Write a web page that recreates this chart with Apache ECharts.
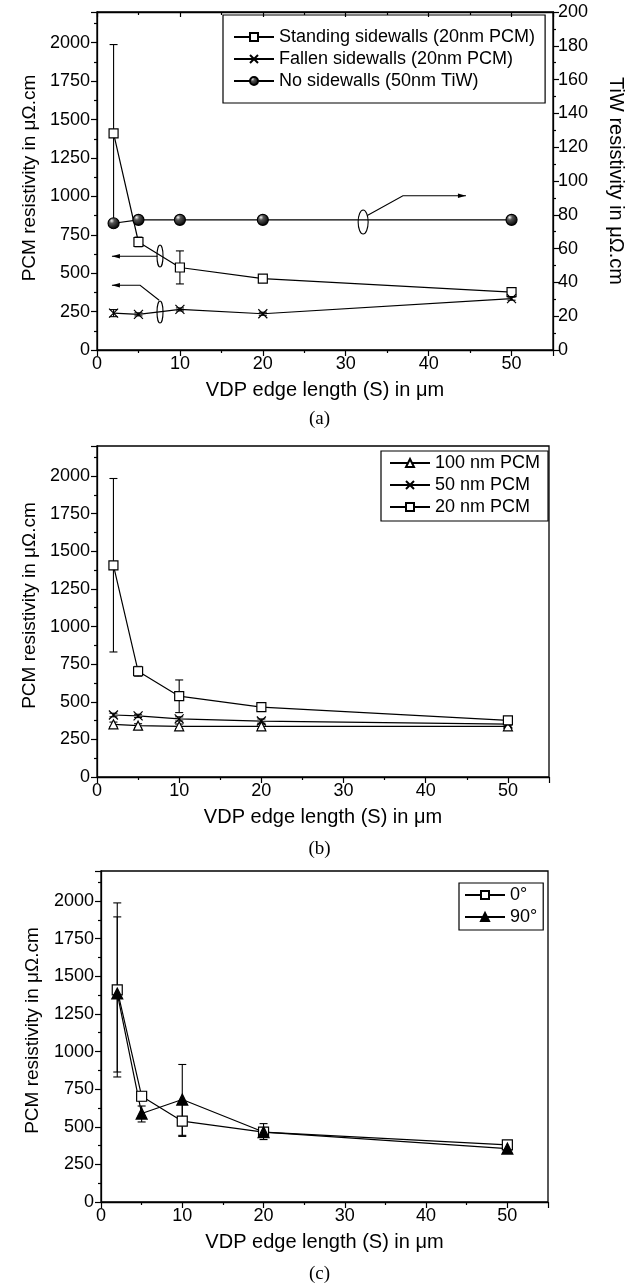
<!DOCTYPE html>
<html>
<head>
<meta charset="utf-8">
<script src="https://cdn.jsdelivr.net/npm/echarts@6/dist/echarts.min.js"></script>
<style>
html, body { margin: 0; padding: 0; background: #fff; }
#chart { width: 639px; height: 1283px; }
</style>
</head>
<body>
<div id="chart"></div>
<script>
// VDP edge length (x) shared by every panel
const S = [2, 5, 10, 20, 50];

// panel (a)
const standing = [1410, 703, 537, 465, 377];
const standingLo = [830, 672, 430, 452, 362];
const standingHi = [1988, 735, 645, 478, 392];
const fallen = [240, 232, 264, 236, 334];
const fallenLo = [217, 222, 254, 226, 324];
const fallenHi = [263, 242, 274, 246, 344];
const tiw = [75, 77, 77, 77, 77];

// panel (b)
const pcm100 = [350, 341, 337, 337, 337];
const pcm100Lo = [335, 328, 322, 322, 325];
const pcm100Hi = [365, 354, 352, 352, 349];
const pcm50 = [412, 406, 386, 372, 352];
const pcm50Lo = [400, 395, 372, 358, 340];
const pcm50Hi = [424, 417, 400, 386, 364];
const pcm20 = [1407, 703, 537, 465, 377];
const pcm20Lo = [831, 670, 428, 452, 362];
const pcm20Hi = [1984, 735, 645, 478, 392];

// panel (c)
const deg0 = [1410, 703, 537, 465, 380];
const deg0Lo = [831, 673, 443, 440, 365];
const deg0Hi = [1988, 733, 648, 490, 395];
const deg90 = [1386, 588, 681, 465, 355];
const deg90Lo = [864, 532, 436, 415, 340];
const deg90Hi = [1895, 638, 914, 521, 370];

// annotation anchors in panel (a), data coords (x, PCM axis)
const ellipseAt = [[32.1, 833], [7.6, 612], [7.6, 247]];
const arrowPaths = [
    [[32.6, 876], [36.9, 1004], [44.5, 1004]],
    [[7.3, 610], [1.8, 610]],
    [[7.5, 324], [5.2, 421], [1.8, 421]]
];

const FONT = '"Liberation Sans", Arial, sans-serif';
const BLACK = '#000';

const chart = echarts.init(document.getElementById('chart'));

function pairs(vals) {
    return S.map((x, i) => [x, vals[i]]);
}
function errData(lo, hi) {
    return S.map((x, i) => [x, lo[i], hi[i]]);
}
// plain numbers, no thousands separator
function plain(v) {
    return String(v);
}

function xAxisFor(grid) {
    return {
        type: 'value', gridIndex: grid, min: 0, max: 55, interval: 10,
        axisLine: { onZero: false, lineStyle: { color: BLACK, width: 1.3 } },
        axisTick: { length: 6, lineStyle: { color: BLACK, width: 1.2 } },
        minorTick: { show: true, splitNumber: 2, length: 3, lineStyle: { color: BLACK, width: 1.2 } },
        axisLabel: { color: BLACK, fontSize: 18, margin: 5, fontFamily: FONT, showMaxLabel: false, formatter: plain },
        splitLine: { show: false },
        name: 'VDP edge length (S) in μm', nameLocation: 'middle', nameGap: 30,
        nameTextStyle: { color: BLACK, fontSize: 20, fontFamily: FONT }
    };
}
function yAxisFor(grid, gap, shift) {
    return {
        type: 'value', gridIndex: grid, min: 0, max: 2200, interval: 250,
        axisLine: { onZero: false, lineStyle: { color: BLACK, width: 1.3 } },
        axisTick: { length: 6, lineStyle: { color: BLACK, width: 1.2 } },
        minorTick: { show: true, splitNumber: 2, length: 3, lineStyle: { color: BLACK, width: 1.2 } },
        axisLabel: { color: BLACK, fontSize: 18, margin: 7, fontFamily: FONT, showMaxLabel: false, formatter: plain },
        splitLine: { show: false },
        name: 'PCM resistivity in μΩ.cm', nameLocation: 'middle', nameGap: gap,
        nameTextStyle: { color: BLACK, fontSize: 19, fontFamily: FONT, padding: [0, 0, 0, shift] }
    };
}

function lineSeries(name, xi, yi, vals, symbol, size, fill) {
    return {
        type: 'line', name: name, xAxisIndex: xi, yAxisIndex: yi,
        data: pairs(vals), symbol: symbol, symbolSize: size, z: 3,
        lineStyle: { color: BLACK, width: 1.2 },
        itemStyle: { color: fill, borderColor: BLACK, borderWidth: 1.2 },
        emphasis: { disabled: true }
    };
}

function errRender(params, api) {
    const x = api.value(0);
    const p1 = api.coord([x, api.value(1)]);
    const p2 = api.coord([x, api.value(2)]);
    const w = 4;
    const st = { stroke: BLACK, lineWidth: 1.1 };
    return {
        type: 'group',
        children: [
            { type: 'line', shape: { x1: p1[0], y1: p1[1], x2: p2[0], y2: p2[1] }, style: st },
            { type: 'line', shape: { x1: p1[0] - w, y1: p1[1], x2: p1[0] + w, y2: p1[1] }, style: st },
            { type: 'line', shape: { x1: p2[0] - w, y1: p2[1], x2: p2[0] + w, y2: p2[1] }, style: st }
        ]
    };
}
function errSeries(xi, yi, lo, hi) {
    return {
        type: 'custom', xAxisIndex: xi, yAxisIndex: yi, z: 2,
        renderItem: errRender, data: errData(lo, hi),
        encode: { x: 0, y: [1, 2] }, silent: true
    };
}

// ellipses + arrows of panel (a)
function noteRender(params, api) {
    const kids = [];
    const st = { stroke: BLACK, lineWidth: 1.1, fill: null };
    const sizes = [[5, 12], [3, 11], [3, 11]];
    ellipseAt.forEach((c, i) => {
        const p = api.coord(c);
        kids.push({ type: 'ellipse', shape: { cx: p[0], cy: p[1], rx: sizes[i][0], ry: sizes[i][1] }, style: st });
    });
    arrowPaths.forEach(path => {
        const pts = path.map(v => api.coord(v));
        kids.push({ type: 'polyline', shape: { points: pts }, style: st });
        const a = pts[pts.length - 2], b = pts[pts.length - 1];
        const dx = b[0] - a[0], dy = b[1] - a[1];
        const len = Math.sqrt(dx * dx + dy * dy);
        const ux = dx / len, uy = dy / len;
        const hl = 8, hw = 2.2;
        kids.push({
            type: 'polygon',
            shape: { points: [b, [b[0] - ux * hl - uy * hw, b[1] - uy * hl + ux * hw], [b[0] - ux * hl + uy * hw, b[1] - uy * hl - ux * hw]] },
            style: { fill: BLACK }
        });
    });
    return { type: 'group', children: kids };
}

const sphere = new echarts.graphic.RadialGradient(0.35, 0.3, 0.7, [
    { offset: 0, color: '#f4f4f4' },
    { offset: 0.3, color: '#555' },
    { offset: 1, color: '#000' }
]);
const xMark = 'path://M0,0L10,10M10,0L0,10';

const legendBase = {
    orient: 'vertical', itemWidth: 40, itemHeight: 10, itemGap: 4,
    borderColor: BLACK, borderWidth: 1.2, selectedMode: false,
    textStyle: { color: BLACK, fontSize: 18, fontFamily: FONT }
};

const option = {
    animation: false,
    backgroundColor: '#fff',
    title: [
        { text: '(a)', left: 'center', top: 410, padding: 0, textStyle: { fontFamily: '"Liberation Serif", serif', fontSize: 19, fontWeight: 'normal', color: BLACK } },
        { text: '(b)', left: 'center', top: 840, padding: 0, textStyle: { fontFamily: '"Liberation Serif", serif', fontSize: 19, fontWeight: 'normal', color: BLACK } },
        { text: '(c)', left: 'center', top: 1265, padding: 0, textStyle: { fontFamily: '"Liberation Serif", serif', fontSize: 19, fontWeight: 'normal', color: BLACK } }
    ],
    legend: [
        Object.assign({}, legendBase, {
            data: ['Standing sidewalls (20nm PCM)', 'Fallen sidewalls (20nm PCM)', 'No sidewalls (50nm TiW)'],
            left: 223, top: 15, padding: [13, 10, 13, 10]
        }),
        Object.assign({}, legendBase, {
            data: ['100 nm PCM', '50 nm PCM', '20 nm PCM'],
            left: 381, top: 451, padding: [3, 8, 5, 8]
        }),
        Object.assign({}, legendBase, {
            data: ['0°', '90°'],
            left: 459, top: 883, padding: [3, 6, 4, 5]
        })
    ],
    grid: [
        { left: 97, top: 12, width: 456, height: 338, show: true, borderColor: BLACK, borderWidth: 1.3 },
        { left: 97, top: 446, width: 452, height: 331, show: true, borderColor: BLACK, borderWidth: 1.3 },
        { left: 101, top: 871, width: 447, height: 331, show: true, borderColor: BLACK, borderWidth: 1.3 }
    ],
    xAxis: [
        xAxisFor(0),
        {
            type: 'value', gridIndex: 0, position: 'top', min: 0, max: 55, interval: 10,
            axisLine: { onZero: false, lineStyle: { color: BLACK, width: 1.3 } },
            axisTick: { inside: true, length: 5, lineStyle: { color: BLACK, width: 1.2 } },
            minorTick: { show: true, splitNumber: 2, length: 3, lineStyle: { color: BLACK, width: 1.2 } },
            axisLabel: { show: false }, splitLine: { show: false }
        },
        xAxisFor(1),
        xAxisFor(2)
    ],
    yAxis: [
        yAxisFor(0, 55, 6),
        {
            type: 'value', gridIndex: 0, position: 'right', min: 0, max: 200, interval: 20,
            axisLine: { onZero: false, lineStyle: { color: BLACK, width: 1.3 } },
            axisTick: { length: 6, lineStyle: { color: BLACK, width: 1.2 } },
            minorTick: { show: true, splitNumber: 2, length: 3, lineStyle: { color: BLACK, width: 1.2 } },
            axisLabel: { color: BLACK, fontSize: 18, margin: 5, fontFamily: FONT, formatter: plain },
            splitLine: { show: false },
            name: 'TiW resistivity in μΩ.cm', nameLocation: 'middle', nameGap: 53, nameRotate: -90,
            nameTextStyle: { color: BLACK, fontSize: 20, fontFamily: FONT }
        },
        yAxisFor(1, 55, 12),
        yAxisFor(2, 59, 12)
    ],
    series: [
        // (a)
        errSeries(0, 0, standingLo, standingHi),
        errSeries(0, 0, fallenLo, fallenHi),
        lineSeries('Standing sidewalls (20nm PCM)', 0, 0, standing, 'rect', 9, '#fff'),
        lineSeries('Fallen sidewalls (20nm PCM)', 0, 0, fallen, xMark, 9, 'none'),
        lineSeries('No sidewalls (50nm TiW)', 0, 1, tiw, 'circle', 11, sphere),
        {
            type: 'custom', xAxisIndex: 0, yAxisIndex: 0, z: 2, silent: true,
            renderItem: noteRender, data: [[0, 0]]
        },
        // (b)
        errSeries(2, 2, pcm100Lo, pcm100Hi),
        errSeries(2, 2, pcm50Lo, pcm50Hi),
        errSeries(2, 2, pcm20Lo, pcm20Hi),
        lineSeries('100 nm PCM', 2, 2, pcm100, 'triangle', 9, '#fff'),
        lineSeries('50 nm PCM', 2, 2, pcm50, xMark, 9, 'none'),
        lineSeries('20 nm PCM', 2, 2, pcm20, 'rect', 9, '#fff'),
        // (c)
        errSeries(3, 3, deg0Lo, deg0Hi),
        errSeries(3, 3, deg90Lo, deg90Hi),
        lineSeries('0°', 3, 3, deg0, 'rect', 10, '#fff'),
        lineSeries('90°', 3, 3, deg90, 'triangle', 11, BLACK)
    ]
};

chart.setOption(option);
window.addEventListener('resize', () => chart.resize());
</script>
</body>
</html>
